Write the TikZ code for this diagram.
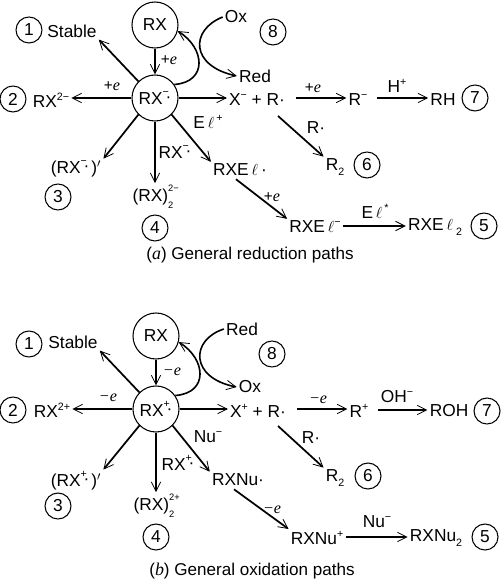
\documentclass[tikz,border=0pt]{standalone}
\usepackage{fontspec}
\setmainfont{Liberation Sans}
\newfontfamily\serifit[Scale=1.05]{Liberation Serif}
\usetikzlibrary{arrows.meta}
\newcommand{\ee}{{\serifit\itshape e}}
\newcommand{\pe}{+\ee}
\newcommand{\me}{{\serifit\itshape −e}}
\newcommand{\El}{E\,$\ell$}
\newcommand{\upx}[1]{\raisebox{0.42em}{\footnotesize #1}}
\newcommand{\dnx}[1]{\raisebox{-0.25em}{\footnotesize #1}}
\newcommand{\radi}[1]{\makebox[0pt][l]{\raisebox{0.5em}{\footnotesize #1}}\raisebox{0.12em}{\,·}\hspace{0.12em}}
\newcommand{\both}[2]{$^{\raisebox{0.22em}{\scriptsize #1}}_{\raisebox{-0.18em}{\scriptsize #2}}$}
\tikzset{
  every node/.style={font=\fontsize{13}{15}\selectfont, inner sep=1.5pt},
  ring/.style={draw, circle, line width=0.8pt, minimum size=34.5pt, inner sep=0pt},
  numring/.style={draw, circle, line width=0.8pt, minimum size=19.5pt, inner sep=0pt},
  link/.style={line width=1.3pt, -{Straight Barb[length=7pt,width=7pt,line width=0.6pt]}},
  small/.style={font=\fontsize{11.5}{14}\selectfont},
  curve/.style={line width=1.2pt}
}
\begin{document}
\begin{tikzpicture}[x=0.75pt,y=-0.75pt]
\useasboundingbox (0,0) rectangle (500,580);
% ---------- reduction
\node[ring] (ra) at (155,25) {RX};
\node[ring] (rb) at (155,98) {RX\radi{−}};
\node[numring] (a1) at (29,30) {1};
\node (as) at (72,31) {Stable};
\node[numring] (a2) at (13,99) {2};
\node (ad) at (51,100) {RX\upx{2−}};
\node (a3t) at (76,169) {(RX\radi{−})$'$};
\node[numring] (a3) at (58,197) {3};
\node (a4t) at (156,197) {(RX)\both{2−}{2}};
\node[numring] (a4) at (155,228) {4};
\node (ae) at (240,170) {RX\El\,·};
\node (af) at (315,227) {RX\El\upx{−}};
\node (ag) at (435,227) {RX\El\,\dnx{2}};
\node[numring] (a5) at (484,226) {5};
\node (ax) at (257,100) {X\upx{−} + R·};
\node (ar) at (358,100) {R\upx{−}};
\node (ah) at (443,100) {RH};
\node[numring] (a7) at (475,98) {7};
\node (at) at (335,167) {R\dnx{2}};
\node[numring] (a6) at (367,165) {6};
\node (aox) at (236,17) {Ox};
\node (ard) at (255,76) {Red};
\node[numring] (a8) at (273,32) {8};
\draw[link] (ra) -- (rb);
\draw[link] (rb.135) -- (as.south east);
\draw[link] (rb.west) -- (rb.west -| ad.east);
\draw[link] (rb.225) -- (a3t.north east);
\draw[link] (rb.south) -- (rb.south |- a4t.north);
\draw[link] (rb.-45) -- (ae.north west);
\draw[link] (rb) -- (rb.east -| ax.west);
\draw[link] (ae.south) ++(-4,1) coordinate (ae1) -- (af.north west);
\draw[link] (af.east) ++(0,-1) coordinate (af1) -- (af1 -| ag.west);
\draw[link] (ax.east |- ar.west) ++(9,-2) coordinate (ax1) -- (ar.west |- ax1);
\draw[link] (ar) ++(19,-2) coordinate (ar1) -- (ah.west |- ar1);
\draw[link] (278,116) coordinate (ax2) -- (at.north west);
\draw[curve,-{Straight Barb[length=7pt,width=7pt,line width=0.6pt]}] (rb.35) .. controls (208,82) and (205,48) .. (ra.-15);
\draw[curve,-{Straight Barb[length=7pt,width=7pt,line width=0.6pt]}] (aox.west) .. controls (190,30) and (190,66) .. (ard.west);
\node[small] at (169,60) {\pe};
\node[small] at (112,86) {\pe};
\node at (175,152) {RX\radi{−}};
\node at (208,122) {\El\upx{\,+}};
\node[small] at (272,197) {\pe};
\node at (375,211) {\El\upx{\,*}};
\node[small] at (313,88) {\pe};
\node at (397,86) {H\upx{+}};
\node at (316,128) {R·};
\node[font=\fontsize{12.8}{15}\selectfont] (ca) at (250,255) {({\serifit\itshape a}) General reduction paths};
% ---------- oxidation
\node[ring] (ba) at (156,336) {RX};
\node[ring] (bb) at (156,409) {RX\radi{+}};
\node[numring] (b1) at (29,344) {1};
\node (bs) at (73,342) {Stable};
\node[numring] (b2) at (13,410) {2};
\node (bd) at (52,410) {RX\upx{2+}};
\node (b3t) at (76,481) {(RX\radi{+})$'$};
\node[numring] (b3) at (58,506) {3};
\node (b4t) at (157,506) {(RX)\both{2+}{2}};
\node[numring] (b4) at (156,537) {4};
\node (be) at (238,480) {RXNu·};
\node (bf) at (317,538) {RXNu\upx{+}};
\node (bg) at (436,538) {RXNu\dnx{2}};
\node[numring] (b5) at (485,537) {5};
\node (bx) at (258,411) {X\upx{+} + R·};
\node (br) at (359,411) {R\upx{+}};
\node (bh) at (449,411) {ROH};
\node[numring] (b7) at (487,411) {7};
\node (bt) at (335,478) {R\dnx{2}};
\node[numring] (b6) at (368,476) {6};
\node (brd) at (242,329) {Red};
\node (box) at (250,387) {Ox};
\node[numring] (b8) at (272,354) {8};
\draw[link] (ba) -- (bb);
\draw[link] (bb.135) -- (bs.south east);
\draw[link] (bb.west) -- (bb.west -| bd.east);
\draw[link] (bb.225) -- (b3t.north east);
\draw[link] (bb.south) -- (bb.south |- b4t.north);
\draw[link] (bb.-45) -- (be.north west);
\draw[link] (bb) -- (bb.east -| bx.west);
\draw[link] (be.south) ++(-4,1) coordinate (be1) -- (bf.north west);
\draw[link] (bf.east) ++(0,-1) coordinate (bf1) -- (bf1 -| bg.west);
\draw[link] (bx.east |- br.west) ++(9,-2) coordinate (bx1) -- (br.west |- bx1);
\draw[link] (br) ++(19,-1) coordinate (br1) -- (bh.west |- br1);
\draw[link] (278,426) coordinate (bx2) -- (bt.north west);
\draw[curve,-{Straight Barb[length=7pt,width=7pt,line width=0.6pt]}] (bb.35) .. controls (209,393) and (206,359) .. (ba.-15);
\draw[curve,-{Straight Barb[length=7pt,width=7pt,line width=0.6pt]}] (brd.west) .. controls (190,340) and (190,378) .. (box.west);
\node[small] at (172,372) {\me};
\node[small] at (108,398) {\me};
\node at (178,463) {RX\radi{+}};
\node at (208,437) {Nu\upx{−}};
\node[small] at (272,510) {\me};
\node at (377,522) {Nu\upx{−}};
\node[small] at (318,400) {\me};
\node at (397,397) {OH\upx{−}};
\node at (311,438) {R·};
\node[font=\fontsize{12.8}{15}\selectfont] (cb) at (252,571) {({\serifit\itshape b}) General oxidation paths};
\end{tikzpicture}
\end{document}
